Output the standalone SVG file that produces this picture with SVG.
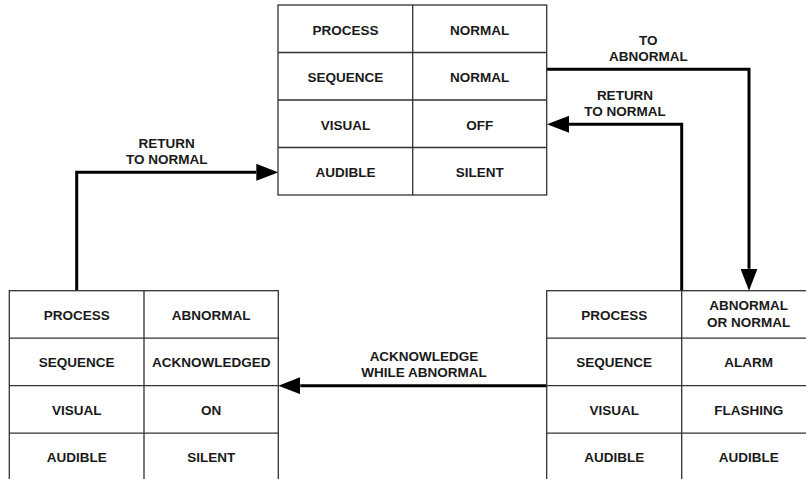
<svg xmlns="http://www.w3.org/2000/svg" width="806" height="479" viewBox="0 0 806 479">
<style>
  .cell { fill: #ffffff; stroke: #333333; stroke-width: 1.3; }
  .grid { stroke: #333333; stroke-width: 1.3; fill: none; }
  text { font-family: "Liberation Sans", Arial, sans-serif; font-weight: bold; font-size: 13.5px; fill: #1a1a1a; text-anchor: middle; }
  .conn { fill: none; stroke: #000000; stroke-width: 3; stroke-linejoin: miter; marker-end: url(#arrow); }
</style>
<defs>
  <marker id="arrow" markerUnits="userSpaceOnUse" markerWidth="22" markerHeight="17" viewBox="0 0 22 17" refX="0" refY="8.5" orient="auto">
    <path d="M0,0 L22,8.5 L0,17 Z" fill="#000000"/>
  </marker>
</defs>
<rect width="806" height="479" fill="#ffffff"/>

<g id="connectors">
  <path class="conn" d="M547,69.3 H749 V268.7"/>
  <path class="conn" d="M681.7,290.7 V124.3 H569"/>
  <path class="conn" d="M76.7,290.7 V172.3 H256.3"/>
  <path class="conn" d="M546.7,385.7 H300.3"/>
  <text x="648.3" y="44.5">TO</text>
  <text x="648.3" y="61">ABNORMAL</text>
  <text x="625" y="99.5">RETURN</text>
  <text x="625" y="116.2">TO NORMAL</text>
  <text x="166.7" y="147.5">RETURN</text>
  <text x="166.7" y="164.2">TO NORMAL</text>
  <text x="424" y="361">ACKNOWLEDGE</text>
  <text x="424" y="377.2">WHILE ABNORMAL</text>
</g>

<g id="state-normal">
  <rect class="cell" x="278" y="5" width="268.7" height="190"/>
  <path class="grid" d="M412.7,5 V195 M278,52.5 H546.7 M278,100 H546.7 M278,147.5 H546.7"/>
  <text x="345.5" y="34.5">PROCESS</text>
  <text x="479.7" y="34.5">NORMAL</text>
  <text x="345.5" y="82">SEQUENCE</text>
  <text x="479.7" y="82">NORMAL</text>
  <text x="345.5" y="129.5">VISUAL</text>
  <text x="479.7" y="129.5">OFF</text>
  <text x="345.5" y="177">AUDIBLE</text>
  <text x="479.7" y="177">SILENT</text>
</g>

<g id="state-acknowledged">
  <rect class="cell" x="9.3" y="290.7" width="269" height="190"/>
  <path class="grid" d="M144,290.7 V480.7 M9.3,338.2 H278.3 M9.3,385.7 H278.3 M9.3,433.2 H278.3"/>
  <text x="76.7" y="319.8">PROCESS</text>
  <text x="211.2" y="319.8">ABNORMAL</text>
  <text x="76.7" y="367.3">SEQUENCE</text>
  <text x="211.2" y="367.3">ACKNOWLEDGED</text>
  <text x="76.7" y="414.8">VISUAL</text>
  <text x="211.2" y="414.8">ON</text>
  <text x="76.7" y="462.3">AUDIBLE</text>
  <text x="211.2" y="462.3">SILENT</text>
</g>

<g id="state-alarm">
  <rect class="cell" x="546.7" y="290.7" width="269" height="190"/>
  <path class="grid" d="M681.7,290.7 V480.7 M546.7,338.2 H815.7 M546.7,385.7 H815.7 M546.7,433.2 H815.7"/>
  <text x="614.2" y="319.8">PROCESS</text>
  <text x="748.7" y="309.5">ABNORMAL</text>
  <text x="748.7" y="326.5">OR NORMAL</text>
  <text x="614.2" y="367.3">SEQUENCE</text>
  <text x="748.7" y="367.3">ALARM</text>
  <text x="614.2" y="414.8">VISUAL</text>
  <text x="748.7" y="414.8">FLASHING</text>
  <text x="614.2" y="462.3">AUDIBLE</text>
  <text x="748.7" y="462.3">AUDIBLE</text>
</g>
</svg>
